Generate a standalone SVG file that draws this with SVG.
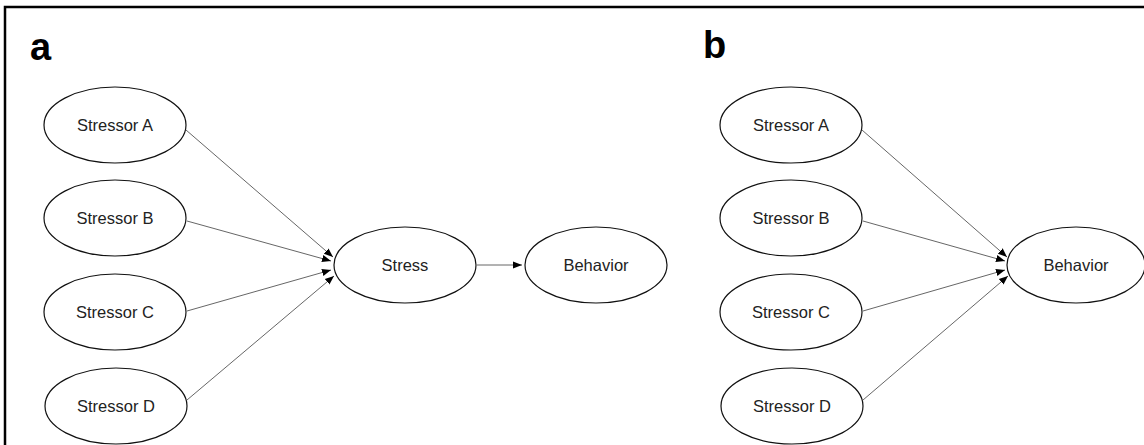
<svg xmlns="http://www.w3.org/2000/svg" width="1144" height="445" viewBox="0 0 1144 445">
<defs>
<style>
.n ellipse{fill:#fff;stroke:#111;stroke-width:1.2}
.n text{font-family:"Liberation Sans",Arial,sans-serif;font-size:16.5px;fill:#222;text-anchor:middle;dominant-baseline:central}
.lbl{font-family:"Liberation Sans",Arial,sans-serif;font-size:38px;font-weight:bold;fill:#000}
#edges line{stroke:#555;stroke-width:0.9;marker-end:url(#ah)}
</style>
<marker id="ah" viewBox="0 0 10 10" refX="10" refY="5" markerWidth="9" markerHeight="9" markerUnits="userSpaceOnUse" orient="auto">
<path d="M0,1 L10,5 L0,9 z" fill="#000"/>
</marker>
</defs>
<rect x="0" y="0" width="1144" height="445" fill="#fff"/>
<rect x="5" y="7" width="1150" height="450" fill="none" stroke="#000" stroke-width="2.5"/>
<text class="lbl" x="30" y="60">a</text>
<text class="lbl" x="703" y="58">b</text>
<g id="edges">
<line x1="186" y1="130" x2="333" y2="257"/>
<line x1="187" y1="221" x2="331" y2="261"/>
<line x1="187" y1="311" x2="331" y2="270"/>
<line x1="187" y1="400" x2="334" y2="276"/>
<line x1="477" y1="265" x2="522" y2="265"/>
<line x1="862" y1="130" x2="1007" y2="257"/>
<line x1="863" y1="221" x2="1005" y2="261"/>
<line x1="863" y1="311" x2="1005" y2="270"/>
<line x1="863" y1="400" x2="1008" y2="276"/>
</g>
<g id="a-stressorA" class="n"><ellipse cx="115" cy="125" rx="71" ry="38"/><text x="115" y="125">Stressor A</text></g>
<g id="a-stressorB" class="n"><ellipse cx="115" cy="218" rx="71" ry="38"/><text x="115" y="218">Stressor B</text></g>
<g id="a-stressorC" class="n"><ellipse cx="115" cy="312" rx="71" ry="38"/><text x="115" y="312">Stressor C</text></g>
<g id="a-stressorD" class="n"><ellipse cx="116" cy="406" rx="71" ry="38"/><text x="116" y="406">Stressor D</text></g>
<g id="a-stress" class="n"><ellipse cx="405" cy="265" rx="71" ry="38"/><text x="405" y="265">Stress</text></g>
<g id="a-behavior" class="n"><ellipse cx="596" cy="265" rx="71" ry="38"/><text x="596" y="265">Behavior</text></g>
<g id="b-stressorA" class="n"><ellipse cx="791" cy="125" rx="71" ry="38"/><text x="791" y="125">Stressor A</text></g>
<g id="b-stressorB" class="n"><ellipse cx="791" cy="218" rx="71" ry="38"/><text x="791" y="218">Stressor B</text></g>
<g id="b-stressorC" class="n"><ellipse cx="791" cy="312" rx="71" ry="38"/><text x="791" y="312">Stressor C</text></g>
<g id="b-stressorD" class="n"><ellipse cx="792" cy="406" rx="71" ry="38"/><text x="792" y="406">Stressor D</text></g>
<g id="b-behavior" class="n"><ellipse cx="1076" cy="265" rx="69" ry="38"/><text x="1076" y="265">Behavior</text></g>
</svg>
